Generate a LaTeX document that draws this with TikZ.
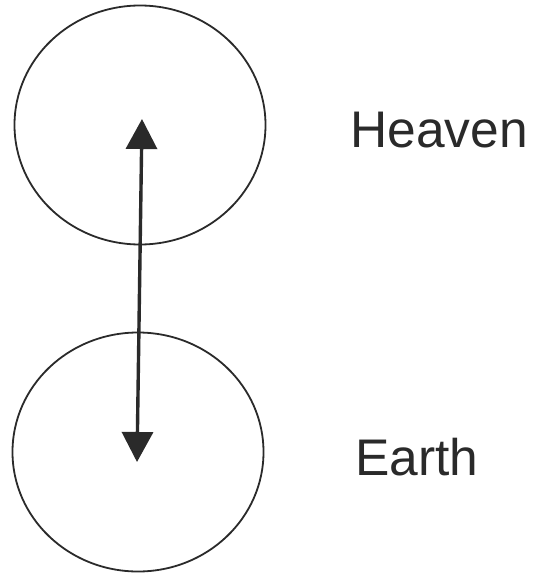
\documentclass[tikz,border=0pt]{standalone}
\usepackage{fontspec}
\setsansfont{Liberation Sans}
\usepackage{tikz}
\usetikzlibrary{arrows.meta, shapes.geometric, calc}
\definecolor{Ink}{HTML}{2A2A2A}

\begin{document}
\begin{tikzpicture}[
  x=1pt, y=-1pt,
  font=\sffamily\fontsize{51.5}{60}\selectfont,
  sphere/.style={ellipse, draw=Ink, line width=1.8pt, inner sep=0pt, minimum width=251pt, minimum height=239pt},
  label/.style={anchor=base west, text=Ink, inner sep=0pt},
  twoway/.style={{Triangle[length=30pt, width=31pt]}-{Triangle[length=30pt, width=31pt]}, line width=3.4pt, draw=Ink, fill=Ink}
]
\useasboundingbox (0,0) rectangle (535,580);
\fill[white] (0,0) rectangle (535,580);

\node[sphere] (heaven) at (140,125) {};
\node[sphere] (earth) at (138,452) {};

\node[label] (heavenlabel) at (350,148) {Heaven};
\node[label] (earthlabel) at (355,475) {Earth};

\coordinate (uptip) at ($(heaven.center)+(2,-6)$);
\coordinate (downtip) at ($(earth.center)+(-1,10)$);
\draw[twoway] (downtip) -- (uptip);
\end{tikzpicture}
\end{document}
